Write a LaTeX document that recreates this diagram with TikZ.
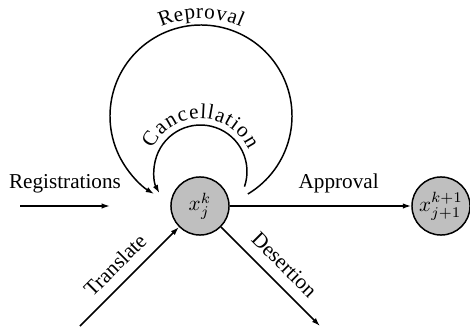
\documentclass[tikz,border=0pt]{standalone}
\usepackage{fontspec}
\setmainfont{Liberation Serif}
\usepackage{amsmath}
\usepackage{tikz}
\usetikzlibrary{arrows.meta}
\usetikzlibrary{positioning,decorations.text}

\tikzset{
	state/.style={circle,draw,fill=gray!50,line width=0.7pt,minimum size=27.4pt,inner sep=0pt},
	flow/.style={line width=0.7pt,-{Latex[length=4pt,width=2.6pt]}},
	curvetext/.style={decorate,decoration={text along path,text align=center,text={#1}}}
}

\begin{document}
\begin{tikzpicture}[x=0.472pt,y=0.472pt]
			\useasboundingbox (0,0) rectangle (470,332);
			\node[state] (xk) at (200,126) {$x_j^k$};
			\node[state] (xkk) at (441,126) {$x_{j+1}^{k+1}$};
			% free ends
			\coordinate (regin) at (20,126);
			\coordinate (regout) at (110,126);
			\coordinate (transin) at (80,6);
			\coordinate (desout) at (320,6);
			\coordinate (cancelc) at (200.5,160.5);
			\coordinate (reprc) at (201,216);
			\draw[flow] (regin) -- node[above=2.5pt] {Registrations} (regout);
			\draw[flow] (xk) -- node[pos=0.6,above=2.5pt] {Approval} (xkk);
			\draw[flow] (transin) -- node[pos=0.485,sloped,above=1.5pt] {Translate} (xk);
			\draw[flow] (xk) -- node[pos=0.51,sloped,above=1.5pt] {Desertion} (desout);
			% loops
			\draw[flow] (cancelc) ++(-19:46.5) arc[start angle=-19,end angle=208,radius=46.5];
			\draw[flow] (reprc) ++(-59:91) arc[start angle=-59,end angle=239,radius=91];
			\path[curvetext={Cancellation},decoration={raise=3pt}] (cancelc) ++(165:46.5) arc[start angle=165,end angle=15,radius=46.5];
			\path[curvetext={Reproval},decoration={raise=3pt}] (reprc) ++(150:91) arc[start angle=150,end angle=30,radius=91];
		\end{tikzpicture}
\end{document}
